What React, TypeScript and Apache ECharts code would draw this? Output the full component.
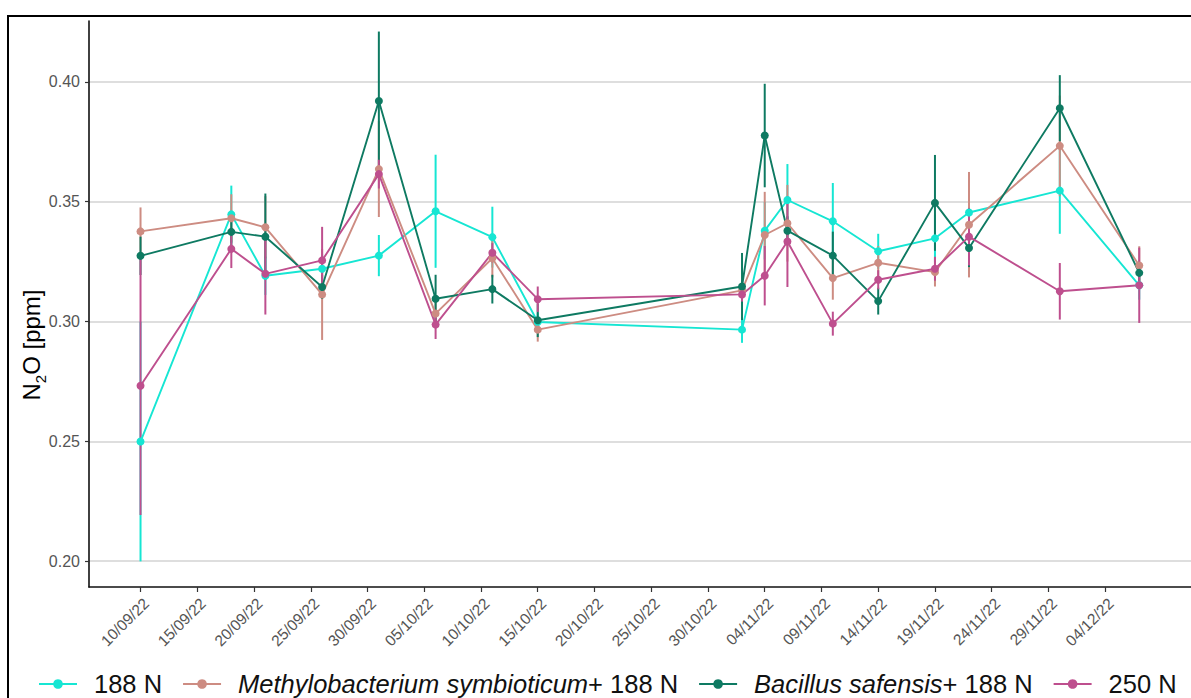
import React, { useEffect, useRef } from 'react';
import * as echarts from 'echarts';

// ---- data ----
const dates = [
  '10/09/22', '18/09/22', '21/09/22', '26/09/22', '01/10/22', '06/10/22', '11/10/22', '15/10/22',
  '02/11/22', '04/11/22', '06/11/22', '10/11/22', '14/11/22', '19/11/22', '22/11/22', '30/11/22', '07/12/22',
];
const tickDates = [
  '10/09/22', '15/09/22', '20/09/22', '25/09/22', '30/09/22', '05/10/22', '10/10/22', '15/10/22', '20/10/22',
  '25/10/22', '30/10/22', '04/11/22', '09/11/22', '14/11/22', '19/11/22', '24/11/22', '29/11/22', '04/12/22',
];
const yTicks = [0.2, 0.25, 0.3, 0.35, 0.4];
const seriesNames = ['188 N', 'Methylobacterium symbioticum+ 188 N', 'Bacillus safensis+ 188 N', '250 N'];
const seriesColors = ['#16E6D3', '#CD8C82', '#0E7A62', '#BE4F8E'];

const n188 = [0.2499, 0.3447, 0.3191, 0.322, 0.3275, 0.346, 0.3352, 0.2998, 0.2966, 0.3379, 0.3507, 0.3418, 0.3293, 0.3347, 0.3455, 0.3546, 0.3151];
const n188Err = [0.05, 0.012, 0.008, 0.006, 0.0086, 0.0236, 0.0127, 0.004, 0.0055, 0.012, 0.015, 0.016, 0.0073, 0.01, 0.006, 0.018, 0.006];
const methylo = [0.3376, 0.3431, 0.3393, 0.3113, 0.3636, 0.3033, 0.3264, 0.2966, 0.313, 0.3361, 0.341, 0.3181, 0.3245, 0.3206, 0.3404, 0.3733, 0.3234];
const methyloErr = [0.01, 0.01, 0.013, 0.019, 0.02, 0.006, 0.008, 0.005, 0.004, 0.018, 0.016, 0.009, 0.007, 0.006, 0.022, 0.021, 0.008];
const bacillus = [0.3274, 0.3374, 0.3354, 0.3144, 0.392, 0.3095, 0.3135, 0.3005, 0.3146, 0.3776, 0.3379, 0.3275, 0.3085, 0.3495, 0.3307, 0.389, 0.3203];
const bacillusErr = [0.008, 0.006, 0.018, 0.005, 0.029, 0.01, 0.006, 0.007, 0.014, 0.0216, 0.006, 0.01, 0.0056, 0.02, 0.008, 0.0138, 0.004];
const n250 = [0.2732, 0.3303, 0.3199, 0.3255, 0.3615, 0.2987, 0.3287, 0.3093, 0.3113, 0.3191, 0.3334, 0.2991, 0.3174, 0.322, 0.3354, 0.3126, 0.3151];
const n250Err = [0.054, 0.008, 0.017, 0.014, 0.006, 0.006, 0.004, 0.0053, 0.003, 0.0124, 0.019, 0.005, 0.004, 0.005, 0.012, 0.0118, 0.0157];

const allValues = [n188, methylo, bacillus, n250];
const allErrs = [n188Err, methyloErr, bacillusErr, n250Err];

// ---- helpers ----
const DAY = 86400000;
const parseDate = (s: string) => {
  const [d, m, y] = s.split('/').map(Number);
  return Date.UTC(2000 + y, m - 1, d);
};
const base = parseDate(tickDates[0]);
const toDay = (s: string) => Math.round((parseDate(s) - base) / DAY);
const pad = (n: number) => (n < 10 ? '0' + n : '' + n);
const fmtDay = (v: number) => {
  const dt = new Date(base + Math.round(v) * DAY);
  return pad(dt.getUTCDate()) + '/' + pad(dt.getUTCMonth() + 1) + '/' + String(dt.getUTCFullYear()).slice(2);
};

const FONT = 'Liberation Sans, Arial, sans-serif';

export default function App() {
  const ref = useRef<HTMLDivElement>(null);
  useEffect(() => {
    if (!ref.current) return;
    const chart = echarts.init(ref.current, undefined, { renderer: 'svg' });
    const days = dates.map(toDay);
    const tickDays = tickDates.map(toDay);

    const errSeries = seriesNames.map((name, si) => ({
      type: 'custom',
      name: name + ' (SE)',
      silent: true,
      z: 1,
      encode: { x: 0, y: [1, 2] },
      data: days.map((d, i) => [d, allValues[si][i] - allErrs[si][i], allValues[si][i] + allErrs[si][i]]),
      renderItem: (_params: any, api: any) => {
        const p1 = api.coord([api.value(0), api.value(1)]);
        const p2 = api.coord([api.value(0), api.value(2)]);
        return {
          type: 'line',
          shape: { x1: p1[0], y1: p1[1], x2: p2[0], y2: p2[1] },
          style: { stroke: seriesColors[si], lineWidth: 2 },
        };
      },
    }));

    const lineSeries = seriesNames.map((name, si) => ({
      type: 'line',
      name,
      z: 2,
      data: days.map((d, i) => [d, allValues[si][i]]),
      symbol: 'circle',
      symbolSize: 8,
      showSymbol: true,
      lineStyle: { color: seriesColors[si], width: 1.9 },
      itemStyle: { color: seriesColors[si] },
    }));

    const option: any = {
      animation: false,
      backgroundColor: '#fff',
      grid: { left: 89, top: 21, right: 0, bottom: 111, containLabel: false },
      xAxis: {
        type: 'value',
        min: -4.54,
        max: 92.56,
        axisLine: { show: true, onZero: false, lineStyle: { color: '#111', width: 1.6 } },
        axisTick: { show: true, length: 5, lineStyle: { color: '#333', width: 1.2 }, customValues: tickDays },
        axisLabel: {
          rotate: 45,
          fontSize: 15.5,
          color: '#555',
          fontFamily: FONT,
          margin: 8,
          verticalAlign: 'top',
          customValues: tickDays,
          formatter: (v: number) => fmtDay(v),
        },
        splitLine: { show: false },
      },
      yAxis: {
        type: 'value',
        min: 0.1892,
        max: 0.4254,
        axisLine: { show: true, onZero: false, lineStyle: { color: '#111', width: 1.6 } },
        axisTick: { show: true, length: 4, lineStyle: { color: '#333', width: 1.2 }, customValues: yTicks },
        axisLabel: {
          fontSize: 16,
          color: '#555',
          fontFamily: FONT,
          margin: 9,
          customValues: yTicks,
          formatter: (v: number) => v.toFixed(2),
        },
        splitLine: { show: true, lineStyle: { color: '#d3d3d3', width: 1.5 } },
      },
      legend: {
        data: seriesNames,
        left: 33,
        top: 666,
        itemWidth: 38,
        itemHeight: 12,
        itemGap: 20,
        textStyle: {
          fontSize: 25.5,
          color: '#111',
          fontFamily: FONT,
          rich: {
            i: { fontSize: 25.5, fontStyle: 'italic', color: '#111', fontFamily: FONT, padding: [0, 0, 0, 12] },
            n: { fontSize: 25.5, color: '#111', fontFamily: FONT },
            f: { fontSize: 25.5, color: '#111', fontFamily: FONT, padding: [0, 0, 0, 12] },
          },
        },
        formatter: (name: string) => {
          const idx = name.indexOf('+');
          if (idx > 0) {
            return '{i|' + name.slice(0, idx) + '}{n|' + name.slice(idx) + '}';
          }
          return '{f|' + name + '}';
        },
      },
      graphic: [
        {
          type: 'rect',
          shape: { x: 8, y: 16, width: 1400, height: 1000 },
          style: { fill: 'none', stroke: '#000', lineWidth: 2 },
          silent: true,
          z: 100,
        },
        {
          type: 'text',
          x: 31,
          y: 345,
          rotation: Math.PI / 2,
          silent: true,
          style: {
            text: 'N{s|2}O [ppm]',
            fontSize: 24,
            fontFamily: FONT,
            fill: '#000',
            align: 'center',
            verticalAlign: 'middle',
            lineHeight: 34,
            rich: {
              s: { fontSize: 15, fontFamily: FONT, fill: '#000', verticalAlign: 'bottom', lineHeight: 15 },
            },
          },
        },
      ],
      series: [...errSeries, ...lineSeries],
    };
    chart.setOption(option);
    return () => chart.dispose();
  }, []);
  return (
    <div
      ref={ref}
      style={{ position: 'fixed', left: 0, top: 0, width: 1191, height: 698, background: '#fff' }}
    />
  );
}
